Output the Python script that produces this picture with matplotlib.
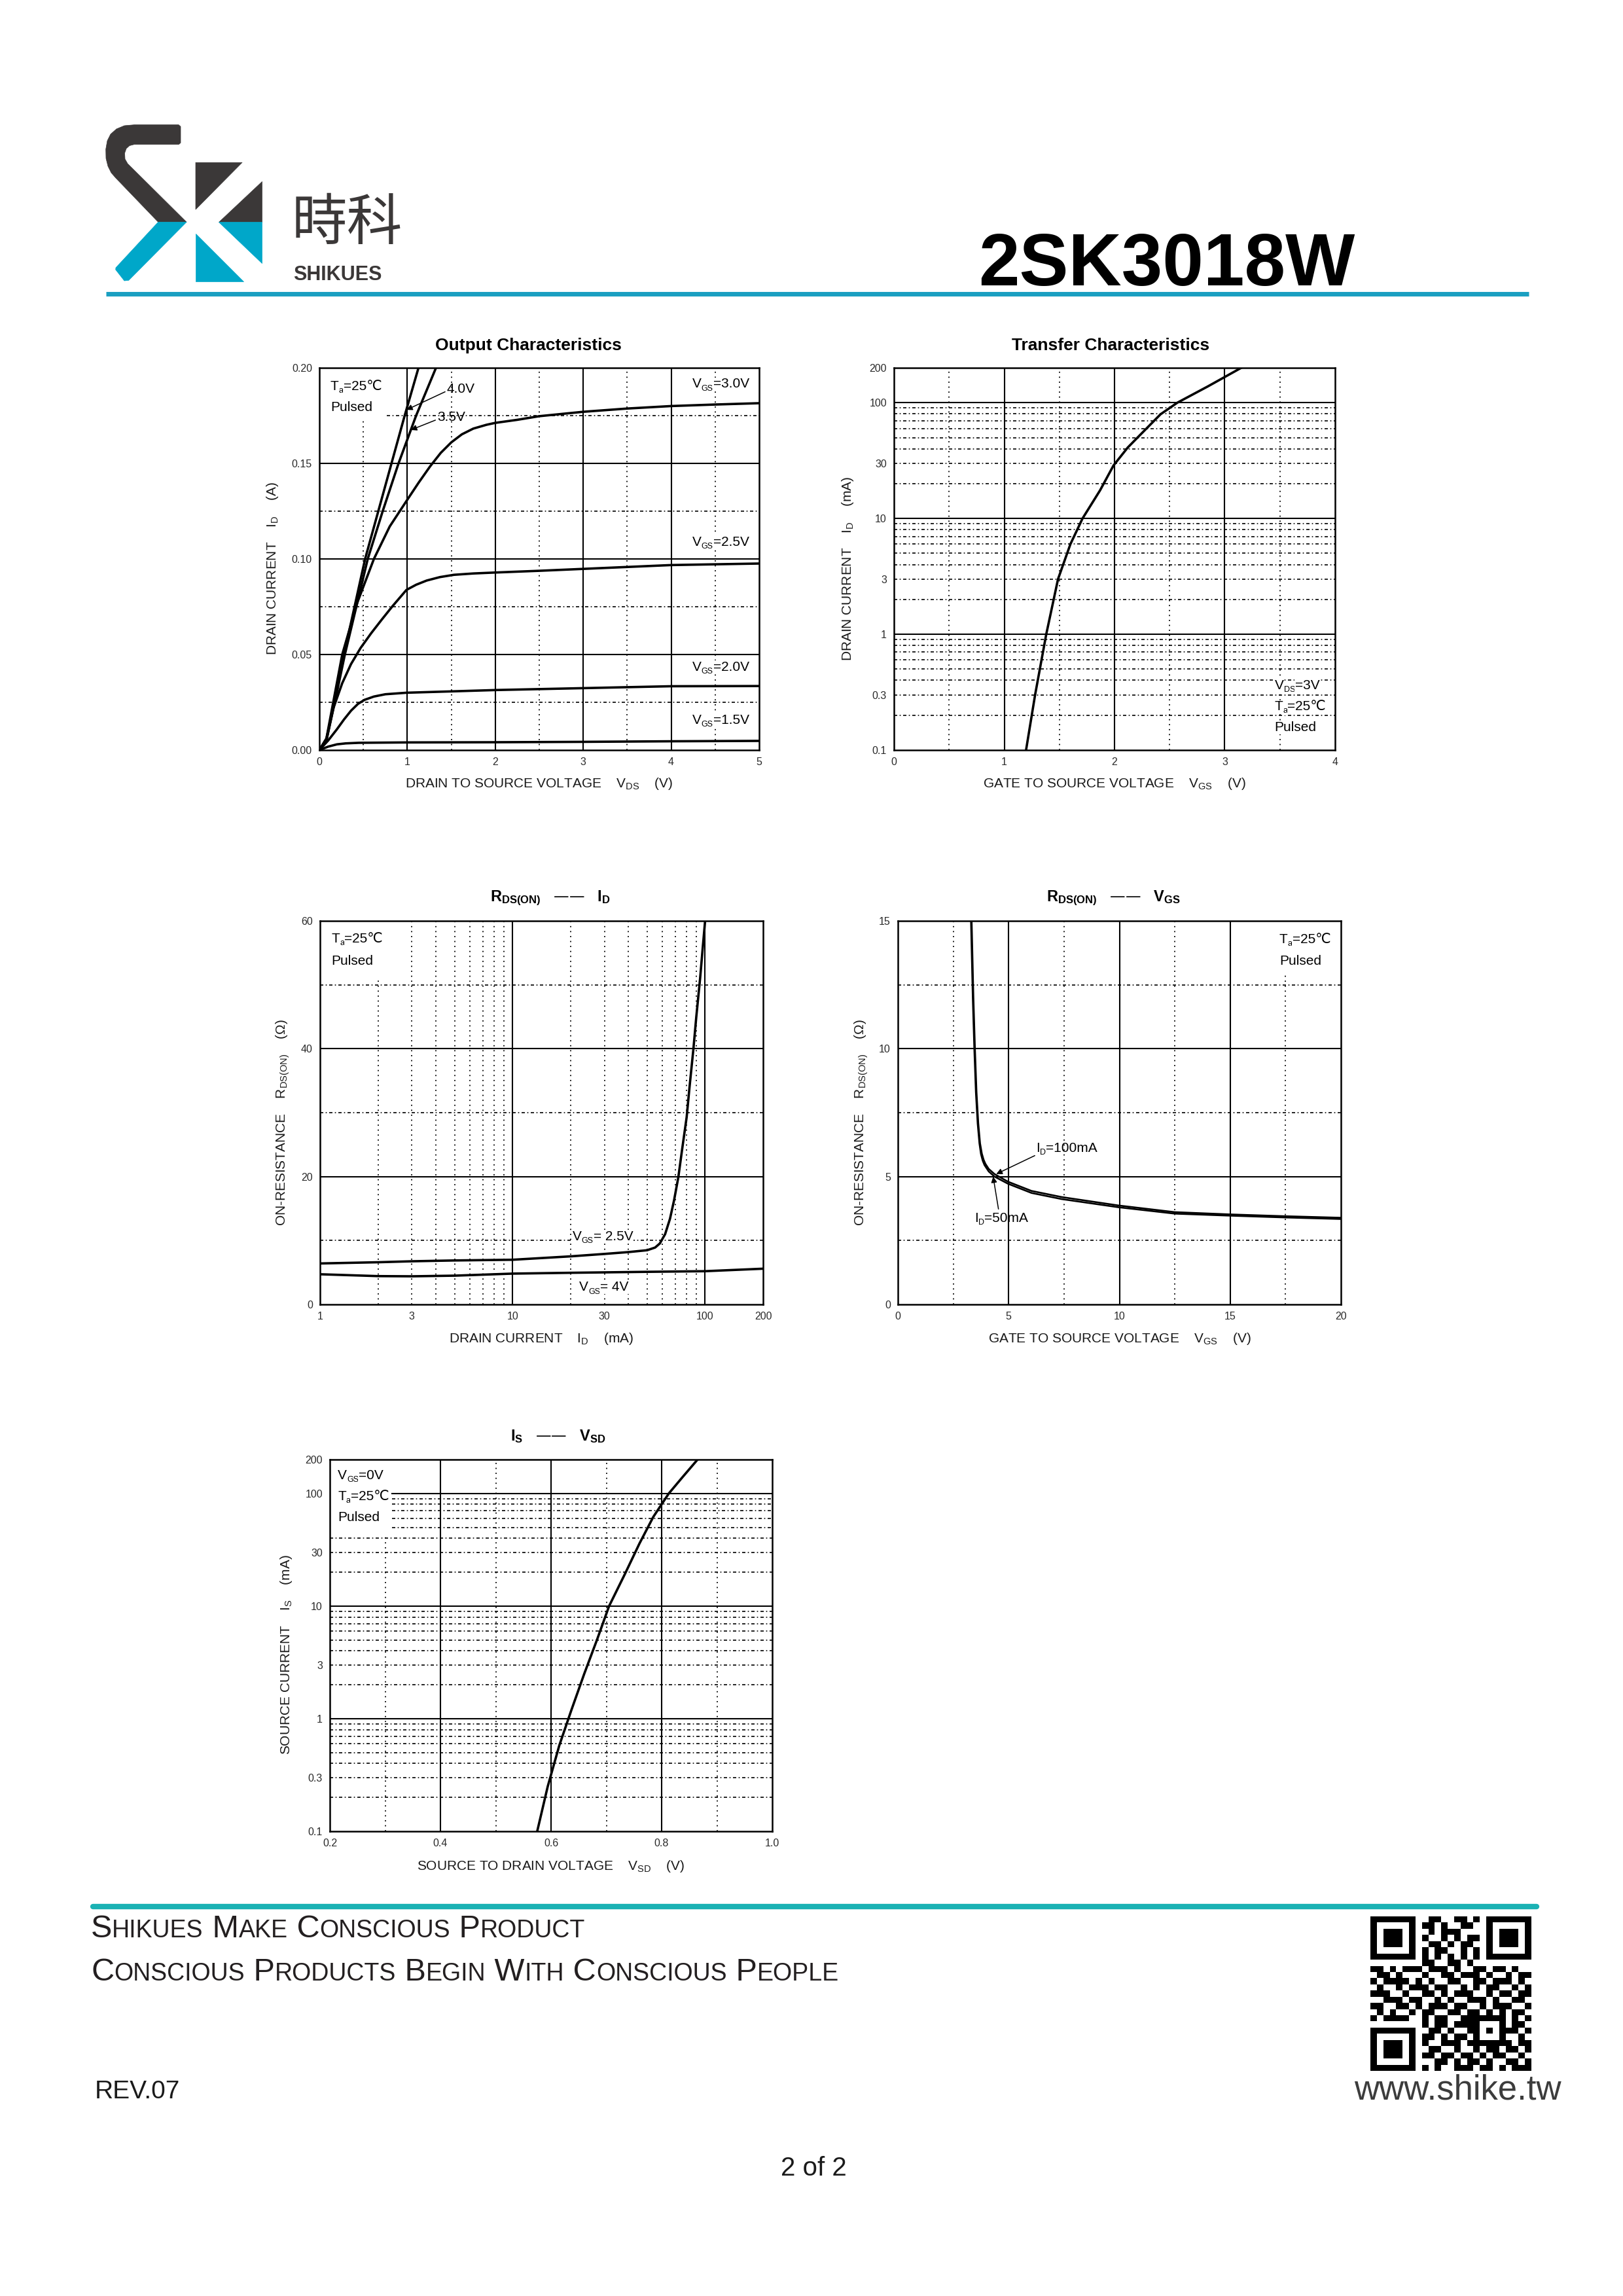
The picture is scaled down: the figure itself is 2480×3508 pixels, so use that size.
import numpy as np
import matplotlib
matplotlib.use('Agg')
import matplotlib.pyplot as plt
from matplotlib import font_manager as fm

plt.rcParams['font.family'] = ['Liberation Sans', 'DejaVu Sans']
plt.rcParams['mathtext.default'] = 'regular'

W, H, DPI = 2480, 3508, 100
fig = plt.figure(figsize=(W / DPI, H / DPI), dpi=DPI, facecolor='white')
AVAIL = {f.name for f in fm.fontManager.ttflist}
NARROW = 'Liberation Sans Narrow' if 'Liberation Sans Narrow' in AVAIL else None
CJK = ['Noto Sans CJK TC', 'Noto Sans CJK SC', 'DejaVu Sans']

# ---------------- data: Output Characteristics (VDS [V], ID [A]) ----------------
out_vds_15 = [0, 0.1, 0.2, 0.3, 0.45, 1, 2, 3, 4, 5]
out_id_15 = [0, 0.0018, 0.003, 0.0035, 0.0038, 0.004, 0.0041, 0.0043, 0.0046, 0.0048]
out_vds_20 = [0, 0.1, 0.2, 0.28, 0.36, 0.44, 0.515, 0.62, 0.75, 0.99, 1.5, 2, 3, 4, 5]
out_id_20 = [0, 0.005, 0.0109, 0.016, 0.0206, 0.0242, 0.0263, 0.028, 0.0292, 0.030,
             0.0307, 0.0314, 0.0324, 0.0334, 0.0335]
out_vds_25 = [0, 0.08, 0.16, 0.26, 0.36, 0.47, 0.59, 0.71, 0.83, 0.99, 1.1, 1.22, 1.37,
              1.53, 1.75, 2, 2.5, 3, 4, 5]
out_id_25 = [0, 0.006, 0.022, 0.035, 0.045, 0.0535, 0.0612, 0.0683, 0.0752, 0.0838, 0.0865,
             0.0887, 0.0905, 0.0917, 0.0924, 0.0929, 0.0938, 0.0948, 0.0968, 0.0976]
out_vds_30 = [0, 0.08, 0.17, 0.26, 0.43, 0.62, 0.8, 1.0, 1.13, 1.26, 1.38, 1.5, 1.62,
              1.75, 1.9, 2.0, 2.25, 2.5, 3, 3.5, 4, 4.5, 5]
out_id_30 = [0, 0.006, 0.028, 0.05, 0.077, 0.10, 0.117, 0.131, 0.140, 0.1485, 0.1555, 0.161,
             0.1652, 0.1682, 0.1702, 0.1712, 0.1728, 0.1747, 0.177, 0.1787, 0.18, 0.1808, 0.1815]
out_vds_35 = [0, 0.08, 0.18, 0.29, 0.42, 0.55, 0.72, 0.9, 1.1, 1.326]
out_id_35 = [0, 0.005, 0.026, 0.05, 0.075, 0.10, 0.125, 0.15, 0.175, 0.20]
out_vds_40 = [0, 0.08, 0.18, 0.28, 0.40, 0.52, 0.67, 0.82, 0.97, 1.127]
out_id_40 = [0, 0.005, 0.027, 0.05, 0.075, 0.10, 0.125, 0.15, 0.175, 0.20]

# ---------------- data: Transfer Characteristics (VGS [V], ID [mA]) ----------------
tr_vgs = [1.198, 1.28, 1.381, 1.488, 1.60, 1.71, 1.869, 1.991, 2.12, 2.235, 2.418, 2.57, 2.845, 3.149]
tr_id = [0.1, 0.3, 1.0, 3.0, 6.0, 10, 17.5, 28.7, 41, 53, 79.5, 100, 138, 200]

# ---------------- data: RDS(ON) vs ID (ID [mA], R [ohm]) ----------------
rid_id_25 = [1, 2, 3, 5, 10, 20, 30, 40, 50, 55, 58.2, 62, 65.7, 69, 72.6, 76, 80.2, 83,
             86.9, 90, 94.2, 97, 100]
rid_r_25 = [6.41, 6.6, 6.75, 6.88, 6.99, 7.52, 7.9, 8.19, 8.48, 8.9, 9.54, 11.0, 13.4, 16.3,
            19.9, 24.3, 29.3, 34, 39.9, 45, 51, 55.5, 60]
rid_id_40 = [1, 2, 3, 5, 10, 20, 50, 100, 200]
rid_r_40 = [4.72, 4.43, 4.4, 4.5, 4.82, 4.95, 5.1, 5.2, 5.59]

# ---------------- data: RDS(ON) vs VGS (VGS [V], R [ohm]) ----------------
rvg_v_50 = [3.30, 3.38, 3.45, 3.52, 3.6, 3.68, 3.75, 3.83, 3.91, 4.1, 4.36, 4.97, 6.03,
            7.39, 9.96, 12.5, 15.03, 17.5, 20]
rvg_r_50 = [15, 12, 9.98, 8.3, 7.08, 6.3, 5.88, 5.62, 5.45, 5.2, 5.0, 4.72, 4.36, 4.12,
            3.8, 3.55, 3.47, 3.4, 3.34]
rvg_v_100 = [3.33, 3.41, 3.48, 3.55, 3.63, 3.71, 3.79, 3.87, 3.95, 4.1, 4.36, 4.97, 6.03,
             7.39, 9.96, 12.5, 15.03, 17.5, 20]
rvg_r_100 = [15, 12, 9.98, 8.3, 7.08, 6.3, 5.9, 5.66, 5.5, 5.3, 5.1, 4.8, 4.44, 4.2,
             3.87, 3.61, 3.52, 3.45, 3.39]

# ---------------- data: IS vs VSD (VSD [V], IS [mA]) ----------------
is_vsd = [0.575, 0.594, 0.615, 0.637, 0.66, 0.683, 0.705, 0.733, 0.76, 0.785, 0.813, 0.838, 0.865]
is_ma = [0.1, 0.25, 0.58, 1.2, 2.5, 5.0, 10, 19, 36, 62, 100, 140, 200]

# ---------------- ticks / grid values ----------------
out_xticks = [0, 1, 2, 3, 4, 5]
out_yticks = [0.0, 0.05, 0.10, 0.15, 0.20]
out_ylabels = ['0.00', '0.05', '0.10', '0.15', '0.20']
log_ticks = [0.1, 0.3, 1, 3, 10, 30, 100, 200]
log_labels = ['0.1', '0.3', '1', '3', '10', '30', '100', '200']
log_minor = [0.2, 0.3, 0.4, 0.5, 0.6, 0.7, 0.8, 0.9, 2, 3, 4, 5, 6, 7, 8, 9,
             20, 30, 40, 50, 60, 70, 80, 90]
tr_xticks = [0, 1, 2, 3, 4]
rid_xticks = [1, 3, 10, 30, 100, 200]
rid_yticks = [0, 20, 40, 60]
rid_xminor = [2, 3, 4, 5, 6, 7, 8, 9, 20, 30, 40, 50, 60, 70, 80, 90]
rvg_xticks = [0, 5, 10, 15, 20]
rvg_yticks = [0, 5, 10, 15]
is_xticks = [0.2, 0.4, 0.6, 0.8, 1.0]
is_xlabels = ['0.2', '0.4', '0.6', '0.8', '1.0']

# QR module rows (decorative)
qr_rows = [
    "1111111001100110101111111", "1000001011010011001000001", "1011101001011100001011101",
    "1011101010010101101011101", "1011101001101011001011101", "1000001010110010101000001",
    "1111111010101010101111111", "0000000011001101000000000", "1101011101110100110110100",
    "0110100010011011101001011", "1011110101001100110111010", "0100101110110010101100101",
    "1110010011010111001011011", "0011101100101001110100110", "1100110101110110010111001",
    "0101001011001101101010110", "1011110010110011111110101", "0000000010110111100010110",
    "1111111001101001101011101", "1000001011010110100010010", "1011101010011101111111011",
    "1011101001100100101101101", "1011101011011011010110010", "1000001000110101101001101",
    "1111111010100111011010111",
]

# =============================== page background ===============================
bg = fig.add_axes([0, 0, 1, 1])
bg.set_xlim(0, W)
bg.set_ylim(H, 0)
bg.axis('off')


def chain(ax, x, y, parts, coords, color='black', box=False, weight='normal', family=None, zorder=6):
    prev = None
    for s, fs, dy in parts:
        kw = dict(fontsize=fs, ha='left', va='baseline', color=color, xytext=(0, dy),
                  textcoords='offset points', annotation_clip=False, zorder=zorder,
                  fontweight=weight)
        if family is not None:
            kw['family'] = family
        if box:
            kw['bbox'] = dict(boxstyle='square,pad=0.03', fc='white', ec='none')
        if prev is None:
            prev = ax.annotate(s, xy=(x, y), xycoords=coords, **kw)
        else:
            prev = ax.annotate(s, xy=(1, y), xycoords=(prev, coords), **kw)
    return prev


def subp(spec, fs=15):
    return [(s, fs * 0.6 if sb else fs, -0.2 * fs if sb else 0) for s, sb in spec]


# logo
DARK, BLUE = '#3b3838', '#00a7c9'
logo = [
    (DARK, [(273, 190.7), (205, 190.7), (190, 192), (178, 197), (169, 205), (164, 215),
            (161.7, 228), (162, 242), (165, 254), (170, 264), (176.7, 271.7), (241.7, 339.3),
            (285, 339.3), (195, 250), (191, 243), (190.5, 234), (193, 227), (198, 222.5),
            (205, 220.7), (273, 220.7), (276, 218.3), (276, 193.3)]),
    (BLUE, [(241.7, 339.3), (285, 339.3), (196.7, 428.3), (190, 429), (176.7, 412), (177, 409)]),
    (DARK, [(299, 248.3), (370, 248.3), (299, 320)]),
    (DARK, [(400, 277.3), (400, 339.3), (334, 339.3)]),
    (BLUE, [(334, 339.3), (400, 339.3), (400, 401.7)]),
    (BLUE, [(299, 357.3), (299, 430), (371.7, 430)]),
]
for col, pts in logo:
    bg.add_patch(plt.Polygon(pts, closed=True, facecolor=col, edgecolor=col, lw=0.5, joinstyle='round'))
bg.text(446, 342, '時科', fontsize=61, family=CJK, color=DARK, ha='left', va='center')
bg.text(448, 428, 'SHIKUES', fontsize=22, fontweight='bold', color=DARK, ha='left', va='baseline')
if NARROW:
    bg.text(2070, 436, '2SK3018W', fontsize=94, fontweight='bold', family=NARROW,
            color='black', ha='right', va='baseline')
else:
    bg.text(2070, 436, '2SK3018W', fontsize=81, fontweight='bold', color='black',
            ha='right', va='baseline')
bg.plot([162, 2336], [449, 449], color='#1a9fc1', lw=5, solid_capstyle='butt')

# footer
bg.plot([142, 2348], [2913, 2913], color='#1bb2b4', lw=6, solid_capstyle='round')


def smallcaps(text, big, small):
    parts = []
    for i, w in enumerate(text.split(' ')):
        parts.append((('' if i == 0 else ' ') + w[0].upper(), big, 0))
        if len(w) > 1:
            parts.append((w[1:].upper(), small, 0))
    return parts


chain(bg, 139, 2960, smallcaps('Shikues Make Conscious Product', 35, 27), 'data', color='#231f20')
chain(bg, 139, 3026, smallcaps('Conscious Products Begin With Conscious People', 35, 27), 'data',
      color='#231f20')
bg.text(145, 3206, 'REV.07', fontsize=28, color='#1a1a1a', ha='left', va='baseline')
bg.text(1243, 3324, '2 of 2', fontsize=29, color='#1a1a1a', ha='center', va='baseline')
bg.text(2386, 3207, 'www.shike.tw', fontsize=38, color='#3c3c3c', ha='right', va='baseline')

qr = np.zeros((25, 25))
for r, row in enumerate(qr_rows):
    row = (row + '0' * 25)[:25]
    qr[r] = [int(c) for c in row]
for (r0, c0) in [(0, 0), (0, 18), (18, 0)]:
    qr[max(r0 - 1, 0):r0 + 8, max(c0 - 1, 0):c0 + 8] = 0
    qr[r0:r0 + 7, c0:c0 + 7] = 1
    qr[r0 + 1:r0 + 6, c0 + 1:c0 + 6] = 0
    qr[r0 + 2:r0 + 5, c0 + 2:c0 + 5] = 1
qr[16:21, 16:21] = 1
qr[17:20, 17:20] = 0
qr[18, 18] = 1
bg.imshow(qr, cmap='gray_r', extent=(2094, 2340, 3164, 2928), interpolation='nearest',
          aspect='auto', zorder=2, vmin=0, vmax=1)

# =============================== charts ===============================
VDOT = (0, (1, 3.2))
HDASH = (0, (3, 2.2, 1, 2.2))


def make_ax(box, xlim, ylim, xscale, yscale, xticks, xlabels, yticks, ylabels,
            gx_major, gx_minor, gy_major, gy_minor, gx_ext=None, gy_ext=None):
    gx_ext = gx_ext or {}
    gy_ext = gy_ext or {}
    x0, y0, x1, y1 = box
    ax = fig.add_axes([x0 / W, 1 - y1 / H, (x1 - x0) / W, (y1 - y0) / H])
    ax.set_xscale(xscale)
    ax.set_yscale(yscale)
    ax.set_xlim(xlim)
    ax.set_ylim(ylim)
    ax.set_xticks(xticks, xlabels)
    ax.set_yticks(yticks, ylabels)
    ax.minorticks_off()
    ax.tick_params(length=0, labelsize=11.5, labelcolor='#2a2a2a', pad=8)
    for v in gx_major:
        ax.axvline(v, color='black', lw=1.5, zorder=1)
    for v in gx_minor:
        lo, hi = gx_ext.get(v, (0, 1))
        ax.axvline(v, ymin=lo, ymax=hi, color='black', lw=1.3, ls=VDOT, zorder=1)
    for v in gy_major:
        lo, hi = gy_ext.get(v, (0, 1))
        ax.axhline(v, xmin=lo, xmax=hi, color='black', lw=1.5, zorder=1)
    for v in gy_minor:
        lo, hi = gy_ext.get(v, (0, 1))
        ax.axhline(v, xmin=lo, xmax=hi, color='black', lw=1.2, ls=HDASH, zorder=1)
    for s in ax.spines.values():
        s.set_linewidth(1.8)
        s.set_zorder(4)
    return ax


def labels(ax, xl, yl, xpos, ypos, title, tpos, tsize=19):
    ax.set_xlabel(xl, fontsize=15, color='#1a1a1a', va='center')
    ax.xaxis.set_label_coords(*xpos)
    ax.set_ylabel(yl, fontsize=15, color='#1a1a1a', va='center')
    ax.yaxis.set_label_coords(*ypos)
    ax.text(tpos[0], tpos[1], title, transform=ax.transAxes, ha='center', va='center',
            fontsize=tsize, fontweight='bold')


CURVE = dict(color='black', lw=2.6, zorder=3, solid_joinstyle='round')
ARROW = dict(arrowstyle='-|>', color='black', lw=1.1, mutation_scale=13, shrinkA=0, shrinkB=0)

# ---- Output Characteristics ----
ax = make_ax((488, 562, 1160, 1146), (0, 5), (0, 0.20), 'linear', 'linear',
             out_xticks, [str(v) for v in out_xticks], out_yticks, out_ylabels,
             [1, 2, 3, 4], [0.5, 1.5, 2.5, 3.5, 4.5], [0.05, 0.10, 0.15],
             [0.025, 0.075, 0.125, 0.175], gx_ext={0.5: (0, 0.865)}, gy_ext={0.175: (0.154, 1)})
for xs, ys in [(out_vds_15, out_id_15), (out_vds_20, out_id_20), (out_vds_25, out_id_25),
               (out_vds_30, out_id_30), (out_vds_35, out_id_35), (out_vds_40, out_id_40)]:
    ax.plot(xs, ys, **CURVE)
labels(ax, r'DRAIN TO SOURCE VOLTAGE    V$_{DS}$    (V)', r'DRAIN CURRENT    I$_{D}$    (A)',
       (0.5, -0.089), (-0.107, 0.475), 'Output Characteristics', (0.475, 1.058))
chain(ax, 0.025, 0.942, subp([('T', 0), ('a', 1), ('=25℃', 0)]), 'axes fraction', box=True)
chain(ax, 0.025, 0.887, subp([('Pulsed', 0)]), 'axes fraction', box=True)
chain(ax, 0.848, 0.948, subp([('V', 0), ('GS', 1), ('=3.0V', 0)]), 'axes fraction', box=True)
chain(ax, 0.848, 0.535, subp([('V', 0), ('GS', 1), ('=2.5V', 0)]), 'axes fraction', box=True)
chain(ax, 0.848, 0.208, subp([('V', 0), ('GS', 1), ('=2.0V', 0)]), 'axes fraction', box=True)
chain(ax, 0.848, 0.068, subp([('V', 0), ('GS', 1), ('=1.5V', 0)]), 'axes fraction', box=True)
ax.annotate('4.0V', xy=(0.99, 0.178), xytext=(1.45, 0.187), fontsize=15, va='baseline',
            ha='left', zorder=6, arrowprops=dict(ARROW, relpos=(0, 0.35)))
ax.annotate('3.5V', xy=(1.04, 0.1675), xytext=(1.34, 0.1721), fontsize=15, va='baseline',
            ha='left', zorder=6, arrowprops=dict(ARROW, relpos=(0, 0.35)))

# ---- Transfer Characteristics ----
ax = make_ax((1366, 562, 2040, 1146), (0, 4), (0.1, 200), 'linear', 'log',
             tr_xticks, [str(v) for v in tr_xticks], log_ticks, log_labels,
             [1, 2, 3], [0.5, 1.5, 2.5, 3.5], [1, 10, 100], log_minor)
ax.plot(tr_vgs, tr_id, **CURVE)
labels(ax, r'GATE TO SOURCE VOLTAGE    V$_{GS}$    (V)', r'DRAIN CURRENT    I$_{D}$    (mA)',
       (0.5, -0.089), (-0.104, 0.475), 'Transfer Characteristics', (0.491, 1.058))
chain(ax, 0.863, 0.159, subp([('V', 0), ('DS', 1), ('=3V', 0)]), 'axes fraction', box=True)
chain(ax, 0.863, 0.104, subp([('T', 0), ('a', 1), ('=25℃', 0)]), 'axes fraction', box=True)
chain(ax, 0.863, 0.049, subp([('Pulsed', 0)]), 'axes fraction', box=True)

# ---- RDS(ON) vs ID ----
ax = make_ax((489, 1407, 1166, 1993), (1, 200), (0, 60), 'log', 'linear',
             rid_xticks, [str(v) for v in rid_xticks], rid_yticks, [str(v) for v in rid_yticks],
             [10, 100], rid_xminor, [20, 40], [10, 30, 50], gx_ext={2: (0, 0.854)})
ax.plot(rid_id_25, rid_r_25, **CURVE)
ax.plot(rid_id_40, rid_r_40, **CURVE)
labels(ax, r'DRAIN CURRENT    I$_{D}$    (mA)', r'ON-RESISTANCE    R$_{DS(ON)}$    ($\Omega$)',
       (0.5, -0.09), (-0.084, 0.475), r'R$_{DS(ON)}$   ——   I$_{D}$', (0.52, 1.06), tsize=17)
chain(ax, 0.026, 0.944, subp([('T', 0), ('a', 1), ('=25℃', 0)]), 'axes fraction', box=True)
chain(ax, 0.026, 0.886, subp([('Pulsed', 0)]), 'axes fraction', box=True)
chain(ax, 0.570, 0.168, subp([('V', 0), ('GS', 1), ('= 2.5V', 0)]), 'axes fraction', box=True)
chain(ax, 0.585, 0.035, subp([('V', 0), ('GS', 1), ('= 4V', 0)]), 'axes fraction', box=True)

# ---- RDS(ON) vs VGS ----
ax = make_ax((1372, 1407, 2049, 1993), (0, 20), (0, 15), 'linear', 'linear',
             rvg_xticks, [str(v) for v in rvg_xticks], rvg_yticks, [str(v) for v in rvg_yticks],
             [5, 10, 15], [2.5, 7.5, 12.5, 17.5], [5, 10], [2.5, 7.5, 12.5],
             gx_ext={17.5: (0, 0.858)})
ax.plot(rvg_v_50, rvg_r_50, color='black', lw=1.9, zorder=3)
ax.plot(rvg_v_100, rvg_r_100, color='black', lw=1.9, zorder=3)
labels(ax, r'GATE TO SOURCE VOLTAGE    V$_{GS}$    (V)', r'ON-RESISTANCE    R$_{DS(ON)}$    ($\Omega$)',
       (0.5, -0.09), (-0.083, 0.475), r'R$_{DS(ON)}$   ——   V$_{GS}$', (0.487, 1.06), tsize=17)
chain(ax, 0.861, 0.942, subp([('T', 0), ('a', 1), ('=25℃', 0)]), 'axes fraction', box=True)
chain(ax, 0.861, 0.886, subp([('Pulsed', 0)]), 'axes fraction', box=True)
chain(ax, 6.25, 5.96, subp([('I', 0), ('D', 1), ('=100mA', 0)]), 'data')
chain(ax, 3.45, 3.23, subp([('I', 0), ('D', 1), ('=50mA', 0)]), 'data')
ax.annotate('', xy=(4.44, 5.1), xytext=(6.18, 5.82), arrowprops=ARROW, zorder=6)
ax.annotate('', xy=(4.3, 5.0), xytext=(4.54, 3.73), arrowprops=ARROW, zorder=6)

# ---- IS vs VSD ----
ax = make_ax((504, 2230, 1180, 2798), (0.2, 1.0), (0.1, 200), 'linear', 'log',
             is_xticks, is_xlabels, log_ticks, log_labels,
             [0.4, 0.6, 0.8], [0.3, 0.5, 0.7, 0.9], [1, 10, 100], log_minor,
             gx_ext={0.3: (0, 0.80)},
             gy_ext={100: (0.14, 1), 50: (0.14, 1), 60: (0.14, 1), 70: (0.14, 1),
                     80: (0.14, 1), 90: (0.14, 1)})
ax.plot(is_vsd, is_ma, **CURVE)
labels(ax, r'SOURCE TO DRAIN VOLTAGE    V$_{SD}$    (V)', r'SOURCE CURRENT    I$_{S}$    (mA)',
       (0.5, -0.095), (-0.099, 0.475), r'I$_{S}$   ——   V$_{SD}$', (0.516, 1.063), tsize=17)
chain(ax, 0.018, 0.948, subp([('V', 0), ('GS', 1), ('=0V', 0)]), 'axes fraction', box=True)
chain(ax, 0.018, 0.891, subp([('T', 0), ('a', 1), ('=25℃', 0)]), 'axes fraction', box=True)
chain(ax, 0.018, 0.835, subp([('Pulsed', 0)]), 'axes fraction', box=True)

fig.savefig('out.png', dpi=DPI, facecolor='white')
